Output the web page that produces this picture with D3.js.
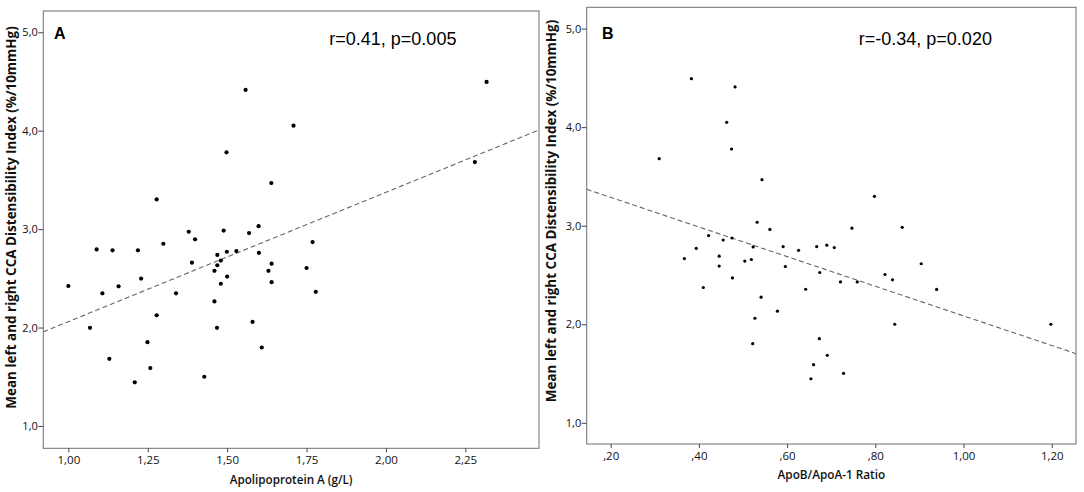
<!DOCTYPE html>
<html><head><meta charset="utf-8">
<script src="https://cdn.jsdelivr.net/npm/d3@7"></script>
<style>body{margin:0;background:#fff} svg{display:block}</style>
</head><body><svg id="chart" width="1084" height="492"></svg>
<script>
// ---- data ----
const apoA = [2.317,1.558,1.709,1.498,2.280,1.639,1.278,1.379,1.489,1.599,1.569,1.399,1.299,1.769,
  1.089,1.139,1.219,1.469,1.499,1.529,1.600,1.469,1.480,1.389,1.460,1.500,1.480,1.229,1.000,1.158,
  1.107,1.339,1.460,1.278,1.068,1.468,1.580,1.249,1.129,1.609,1.258,1.428,1.209,1.640,1.630,1.640,1.750,1.779];
const cdiA = [4.495,4.414,4.051,3.780,3.681,3.468,3.302,2.973,2.985,3.030,2.960,2.896,2.851,2.868,
  2.794,2.784,2.784,2.738,2.770,2.777,2.759,2.633,2.680,2.659,2.576,2.518,2.445,2.497,2.422,2.419,
  2.348,2.348,2.265,2.125,1.997,1.997,2.057,1.851,1.682,1.797,1.588,1.500,1.443,2.649,2.576,2.461,2.605,2.363];
const ratioB = [0.383,0.482,0.463,0.474,0.310,0.543,0.798,0.532,0.561,0.747,0.861,0.422,0.455,0.475,
  0.394,0.523,0.591,0.667,0.690,0.707,0.367,0.446,0.446,0.504,0.519,0.626,0.596,0.674,0.476,0.410,
  0.721,0.759,0.642,0.541,0.578,0.527,0.822,0.839,0.904,0.939,0.844,1.198,0.522,0.673,0.691,0.660,0.728,0.654];
const cdiB = [4.492,4.408,4.049,3.778,3.680,3.467,3.298,3.035,2.962,2.975,2.983,2.900,2.855,2.875,
  2.770,2.785,2.788,2.788,2.802,2.778,2.666,2.691,2.590,2.641,2.657,2.750,2.586,2.525,2.470,2.373,
  2.430,2.429,2.355,2.275,2.133,2.061,2.505,2.451,2.614,2.353,2.000,2.000,1.803,1.854,1.685,1.590,1.502,1.447];

const xTicksA = [1.00,1.25,1.50,1.75,2.00,2.25];
const xTickLabelsA = ["1,00","1,25","1,50","1,75","2,00","2,25"];
const xTicksB = [0.20,0.40,0.60,0.80,1.00,1.20];
const xTickLabelsB = [",20",",40",",60",",80","1,00","1,20"];
const yTicks = [1,2,3,4,5];
const yTickLabels = ["1,0","2,0","3,0","4,0","5,0"];

const fitA = [0.746, 1.314];   // intercept, slope
const fitB = [3.588, -1.503];
const panelLetters = ["A","B"];
const statTexts = ["r=0.41, p=0.005","r=-0.34, p=0.020"];
const xTitles = ["Apolipoprotein A (g/L)","ApoB/ApoA-1 Ratio"];
const yTitle = "Mean left and right CCA Distensibility Index (%/10mmHg)";

// ---- layout ----
const panels = [
  {x: apoA, y: cdiA, fit: fitA, xTicks: xTicksA, xLabels: xTickLabelsA,
   left: 43.3, right: 539, top: 11, bottom: 448.3,
   xDom: [0.921, 2.482], yDom: [0.773, 5.216], r: 2.1,
   letterX: 54, letterY: 39, statX: 329.3, statY: 45,
   yTitleX: 16, yTitleY: 217.5, yTitleLen: 383,
   xTitleY: 484.3, xTitleLen: 123, xTickBase: 464.3},
  {x: ratioB, y: cdiB, fit: fitB, xTicks: xTicksB, xLabels: xTickLabelsB,
   left: 586.7, right: 1076, top: 7.3, bottom: 444,
   xDom: [0.1456, 1.255], yDom: [0.785, 5.216], r: 1.6,
   letterX: 602, letterY: 39, statX: 858.8, statY: 45,
   yTitleX: 556, yTitleY: 211, yTitleLen: 383,
   xTitleY: 479.3, xTitleLen: 107.7, xTickBase: 460}
];

const svg = d3.select("#chart");
const FONT = "'Open Sans', 'DejaVu Sans', sans-serif";

function fitText(sel, target) {
  const L = sel.node().getComputedTextLength();
  const fs = parseFloat(sel.attr("font-size"));
  sel.attr("font-size", (fs * target / L).toFixed(2));
}

panels.forEach((p, i) => {
  const xs = d3.scaleLinear().domain(p.xDom).range([p.left, p.right]);
  const ys = d3.scaleLinear().domain(p.yDom).range([p.bottom, p.top]);
  const g = svg.append("g");

  // frame
  g.append("rect").attr("x", p.left).attr("y", p.top)
    .attr("width", p.right - p.left).attr("height", p.bottom - p.top)
    .attr("fill", "none").attr("stroke", "#6e6e6e").attr("stroke-width", 1);

  // axes
  const ax = d3.axisBottom(xs).tickValues(p.xTicks)
    .tickFormat((d, k) => p.xLabels[k]).tickSize(4).tickSizeOuter(0);
  const gx = g.append("g").attr("transform", `translate(0,${p.bottom})`).call(ax);
  gx.select(".domain").remove();
  gx.selectAll("line").attr("stroke", "#444");
  gx.selectAll("text").attr("font-family", FONT).attr("font-size", 11.5)
    .attr("fill", "#111").attr("dy", null).attr("y", p.xTickBase - p.bottom);

  const ay = d3.axisLeft(ys).tickValues(yTicks)
    .tickFormat((d, k) => yTickLabels[k]).tickSize(5).tickSizeOuter(0);
  const gy = g.append("g").attr("transform", `translate(${p.left},0)`).call(ay);
  gy.select(".domain").remove();
  gy.selectAll("line").attr("stroke", "#444");
  gy.selectAll("text").attr("font-family", FONT).attr("font-size", 11)
    .attr("fill", "#111").attr("x", -5.5);

  // regression line
  const x0 = p.xDom[0], x1 = p.xDom[1];
  g.append("line")
    .attr("x1", xs(x0)).attr("y1", ys(p.fit[0] + p.fit[1] * x0))
    .attr("x2", xs(x1)).attr("y2", ys(p.fit[0] + p.fit[1] * x1))
    .attr("stroke", "#666").attr("stroke-width", 1.1)
    .attr("stroke-dasharray", "5,3");

  // points
  g.append("g").selectAll("circle").data(p.x.map((v, k) => [v, p.y[k]]))
    .join("circle").attr("cx", d => xs(d[0])).attr("cy", d => ys(d[1]))
    .attr("r", p.r).attr("fill", "#000");

  // panel letter and stats
  g.append("text").attr("x", p.letterX).attr("y", p.letterY)
    .attr("font-family", "'Liberation Sans', Arial, sans-serif").attr("font-weight", "bold")
    .attr("font-size", 16).text(panelLetters[i]);
  g.append("text").attr("x", p.statX).attr("y", p.statY)
    .attr("font-family", "'Liberation Sans', Arial, sans-serif")
    .attr("font-size", 18).text(statTexts[i]);

  // axis titles
  const yt = g.append("text")
    .attr("transform", `translate(${p.yTitleX},${p.yTitleY}) rotate(-90)`)
    .attr("text-anchor", "middle").attr("font-family", FONT).attr("font-weight", "bold")
    .attr("font-size", 12).attr("fill", "#111").text(yTitle);
  fitText(yt, p.yTitleLen);

  const xt = g.append("text")
    .attr("x", (p.left + p.right) / 2).attr("y", p.xTitleY)
    .attr("text-anchor", "middle").attr("font-family", FONT).attr("font-weight", 600)
    .attr("font-size", 12).attr("fill", "#111").text(xTitles[i]);
  fitText(xt, p.xTitleLen);
});
</script></body></html>
